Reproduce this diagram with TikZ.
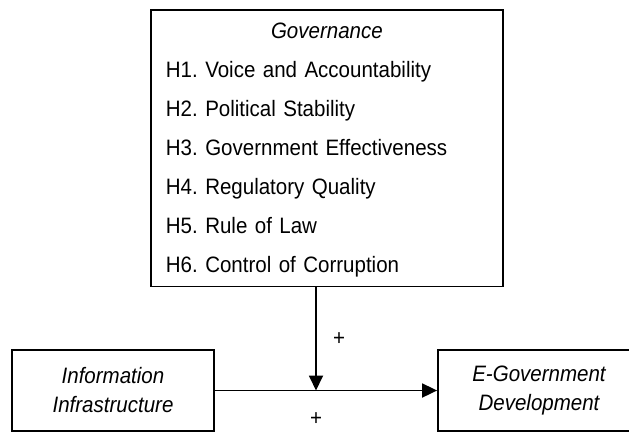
\documentclass[tikz,border=0pt]{standalone}
\usepackage{fontspec}
\setmainfont{Liberation Sans}[FakeStretch=0.92]
\usetikzlibrary{positioning,calc,arrows.meta}
\frenchspacing

\begin{document}
\begin{tikzpicture}[x=1pt, y=-1pt,
    factor/.style={rectangle, draw, line width=1.8pt, align=center, minimum width=202pt, minimum height=81pt, inner sep=0pt, font=\fontsize{22.3}{29}\selectfont\itshape},
    govern/.style={rectangle, draw, line width=1.8pt, text width=322pt, inner xsep=15pt, inner ysep=9pt, align=left, font=\fontsize{22.3}{39}\selectfont},
    link/.style={-{Triangle[length=15pt,width=14pt]}, line width=1.8pt},
    sign/.style={font=\fontsize{22.3}{24}\selectfont}
]
    \useasboundingbox (0,0) rectangle (629,432);
    \node[govern, anchor=north west] (gov) at (150,9) {
        \makebox[\hsize][c]{\rule{0pt}{20pt}\textit{Governance}}\\
        H1. Voice and Accountability\\
        H2. Political Stability\\
        H3. Government Effectiveness\\
        H4. Regulatory Quality\\
        H5. Rule of Law\\
        H6. Control of Corruption
    };
    \node[factor] (info) at (113,390.5) {Information\\Infrastructure};
    \node[factor] (egov) at (539,390.5) {E-Government\\Development};
    % moderating effect meets the main path here
    \coordinate (meet) at ($(info.east)!0.455!(egov.west)$);
    \draw[link] (info) -- (egov) node[sign, pos=0.455, yshift=-29pt] {+};
    \draw[link] (gov.south -| meet) -- (meet) node[sign, midway, xshift=23pt] {+};
\end{tikzpicture}
\end{document}
